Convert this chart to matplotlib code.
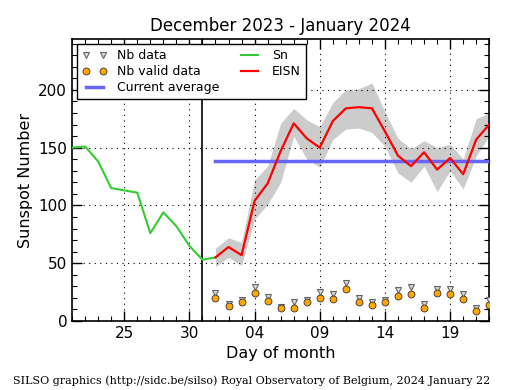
import datetime as dt

import matplotlib
matplotlib.use("Agg")
import matplotlib.pyplot as plt
import matplotlib.dates as mdates

# daily Sn (green), Dec 21 -> Jan 1
sn_days = [dt.date(2023, 12, 21) + dt.timedelta(days=i) for i in range(12)]
sn = [150, 151, 138, 115, 113, 111, 76, 94, 82, 65, 53, 55]

# EISN and the spread band, Jan 1 -> Jan 22
eisn_days = [dt.date(2024, 1, 1) + dt.timedelta(days=i) for i in range(22)]
eisn = [55, 64, 57, 104, 119, 147, 171, 158, 150, 173, 184, 185,
        184, 164, 143, 134, 146, 131, 141, 127, 157, 170]
eisn_hi = [63, 72, 68, 122, 134, 171, 184, 174, 168, 189, 200, 201,
           206, 181, 158, 149, 156, 150, 153, 140, 175, 180]
eisn_lo = [47, 55, 48, 88, 101, 120, 160, 140, 133, 157, 166, 167,
           163, 151, 128, 120, 134, 112, 130, 114, 143, 160]

nb_data = [24, 15, 18, 29, 21, 12, 16, 18, 25, 23, 33, 20,
           16, 18, 27, 29, 15, 28, 28, 23, 11, 18]
nb_valid = [20, 13, 16, 24, 17, 11, 11, 16, 20, 19, 28, 16,
            14, 16, 22, 23, 11, 24, 23, 19, 9, 14]

current_avg = 138.6
month_start = dt.date(2023, 12, 31)
major_days = [dt.date(2023, 12, 25), dt.date(2023, 12, 30), dt.date(2024, 1, 4),
              dt.date(2024, 1, 9), dt.date(2024, 1, 14), dt.date(2024, 1, 19)]

fig = plt.figure(figsize=(5.15, 3.9), dpi=100)
ax = fig.add_axes([0.14, 0.177, 0.81, 0.723])

ax.fill_between(eisn_days, eisn_lo, eisn_hi, color='0.8', lw=0, zorder=1)
ax.axvline(month_start, color='k', lw=1.2, zorder=2)
ax.plot(eisn_days, nb_data, 'v', ls='none', ms=4.5, mfc='0.85', mec='0.4',
        mew=0.8, label='Nb data', zorder=3)
ax.plot(eisn_days, nb_valid, 'o', ls='none', ms=5, mfc='orange', mec='0.2',
        mew=0.6, label='Nb valid data', zorder=4)
ax.plot([eisn_days[0], eisn_days[-1]], [current_avg, current_avg], color='#6666ff',
        lw=2.5, label='Current average', zorder=3)
ax.plot(sn_days, sn, color='#33cc33', lw=1.5, label='Sn', zorder=3)
ax.plot(eisn_days, eisn, color='red', lw=1.6, label='EISN', zorder=4)

ax.set_xlim(dt.date(2023, 12, 21), dt.date(2024, 1, 22))
ax.set_ylim(0, 244)
ax.set_xticks(major_days)
ax.xaxis.set_major_formatter(mdates.DateFormatter('%d'))
ax.xaxis.set_minor_locator(mdates.DayLocator())
ax.set_yticks([0, 50, 100, 150, 200])
ax.set_yticks(range(0, 245, 10), minor=True)
ax.tick_params(which='both', direction='in', top=True, right=True, labelsize=11)
ax.tick_params(which='major', length=7, width=1)
ax.tick_params(which='minor', length=3.5, width=0.8)
ax.grid(True, which='major', color='k', ls=(0, (1, 4)), lw=0.8)
for s in ax.spines.values():
    s.set_linewidth(1.2)

ax.set_title('December 2023 - January 2024', fontsize=12)
ax.set_xlabel('Day of month', fontsize=11.5)
ax.set_ylabel('Sunspot Number', fontsize=11.5)

leg = ax.legend(loc='upper left', ncol=2, numpoints=2, fontsize=9, fancybox=False,
                framealpha=1, edgecolor='k', borderaxespad=0.4, columnspacing=1.4,
                handlelength=2.0, labelspacing=0.25)
leg.get_frame().set_linewidth(1.0)
leg.set_zorder(10)

fig.text(0.025, 0.015, 'SILSO graphics (http://sidc.be/silso) Royal Observatory of Belgium, 2024 January 22',
         fontsize=8, family='DejaVu Serif')

fig.savefig('out.png', dpi=100)
